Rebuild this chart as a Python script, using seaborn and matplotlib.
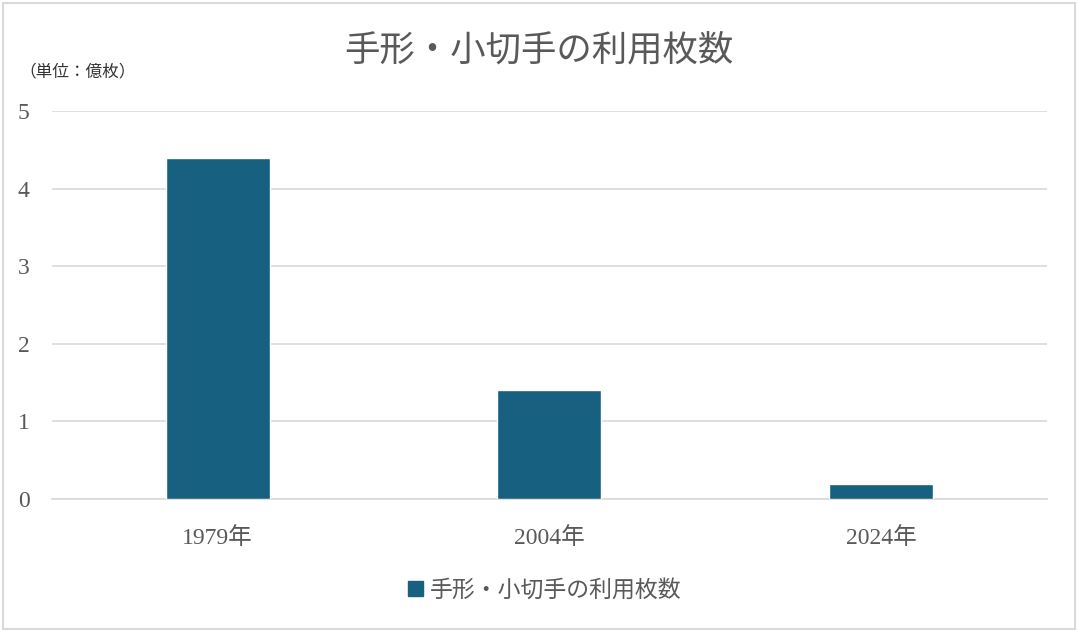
import matplotlib.pyplot as plt
import pandas as pd
import seaborn as sns
from matplotlib.patches import Rectangle

# Data
years = ["1979年", "2004年", "2024年"]
counts = [4.4, 1.4, 0.2]
series_name = "手形・小切手の利用枚数"
y_ticks = [0, 1, 2, 3, 4, 5]

bar_color = "#17607F"
text_color = "#595959"
grid_color = "#D9D9D9"

sns.set_style("white")
plt.rcParams["font.family"] = ["Liberation Serif", "Noto Sans CJK JP", "DejaVu Sans"]

df = pd.DataFrame({"Year": years, "Count": counts})

fig = plt.figure(figsize=(10.78, 6.32), dpi=100)
ax = fig.add_axes([0.048, 0.2104, 0.923, 0.614])

sns.barplot(data=df, x="Year", y="Count", color=bar_color, width=0.314,
            saturation=1, ax=ax, errorbar=None, zorder=3)

ax.set_ylim(0, 5)
ax.set_xlim(-0.5, 2.5)
ax.set_yticks(y_ticks)
ax.yaxis.grid(True, color=grid_color, linewidth=1.2, zorder=0)
ax.set_axisbelow(True)
for side in ["top", "right", "left"]:
    ax.spines[side].set_visible(False)
ax.spines["bottom"].set_color(grid_color)
ax.spines["bottom"].set_linewidth(1.2)
ax.tick_params(axis="both", length=0, labelcolor=text_color)
ax.tick_params(axis="x", labelsize=17, pad=20)
ax.tick_params(axis="y", labelsize=17, pad=16)
ax.set_xlabel("")
ax.set_ylabel("")

# Title and unit label
fig.text(0.5, 0.918, series_name, ha="center", va="center", fontsize=25.5,
         color=text_color)
fig.text(0.018, 0.886, "（単位：億枚）", ha="left", va="center", fontsize=12,
         color="#333333")

# Legend
handle = Rectangle((0, 0), 1, 1, color=bar_color)
fig.legend([handle], [series_name], loc="center", bbox_to_anchor=(0.505, 0.066),
           frameon=False, fontsize=16.5, labelcolor=text_color,
           handlelength=0.65, handleheight=0.65, handletextpad=0.3)

# Figure border
fig.patches.append(Rectangle((0.003, 0.004), 0.994, 0.992, transform=fig.transFigure,
                             fill=False, edgecolor="#D9D9D9", linewidth=1.5))

fig.savefig("out.png", dpi=100)
